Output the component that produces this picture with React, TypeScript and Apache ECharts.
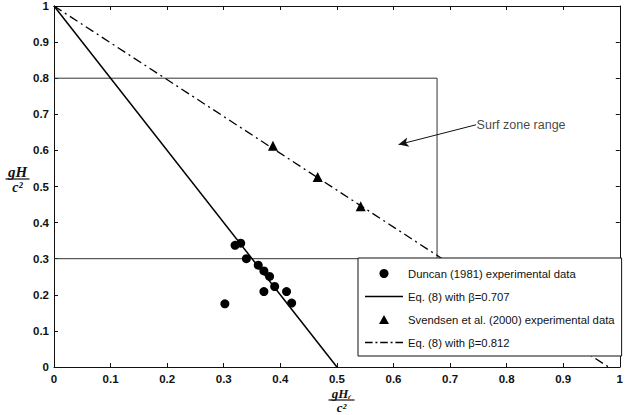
import React, { useEffect, useRef } from "react";
import * as echarts from "echarts";

const duncanX = [0.302, 0.32, 0.33, 0.34, 0.361, 0.371, 0.381, 0.371, 0.39, 0.411, 0.42];
const duncanY = [0.175, 0.337, 0.343, 0.3, 0.282, 0.266, 0.251, 0.209, 0.223, 0.209, 0.177];
const svendsenX = [0.387, 0.466, 0.542];
const svendsenY = [0.613, 0.526, 0.445];
const eq707X = [0, 0.5];
const eq707Y = [1, 0];
const eq812X = [0, 0.98];
const eq812Y = [1, 0];
const surfTopX = [0, 0.677, 0.677];
const surfTopY = [0.8, 0.8, 0.3];
const surfBottomX = [0, 1];
const surfBottomY = [0.3, 0.3];
const arrowFrom = [0.746, 0.671];
const arrowTo = [0.609, 0.616];
const names = [
  "Duncan (1981) experimental data",
  "Eq. (8) with β=0.707",
  "Svendsen et al. (2000) experimental data",
  "Eq. (8) with β=0.812",
];

const zip = (xs: number[], ys: number[]) => xs.map((x, i) => [x, ys[i]]);
const fmt = (v: number) => String(Math.round(v * 10) / 10);
const font = "Liberation Sans, Arial, sans-serif";
const serif = "Liberation Serif, DejaVu Serif, serif";

const solidIcon = "path://M0,0h40v1.5h-40z";
const dashDotIcon =
  "path://M0,0h8v1.4h-8zM11,0h2v1.4h-2zM16,0h8v1.4h-8zM27,0h2v1.4h-2zM32,0h8v1.4h-8z";
const triIcon = "path://M5,0L10,9L0,9Z";

export default function App() {
  const ref = useRef<HTMLDivElement>(null);
  useEffect(() => {
    if (!ref.current) return;
    const chart = echarts.init(ref.current, null, { renderer: "svg" });
    const axisBase = {
      type: "value" as const,
      min: 0,
      max: 1,
      interval: 0.1,
      splitLine: { show: false },
      axisLine: { show: true, onZero: false, lineStyle: { color: "#111", width: 1 } },
      axisTick: { show: true, inside: true, length: 4, lineStyle: { color: "#111" } },
    };
    const labelStyle = { formatter: fmt, color: "#111", fontSize: 11.5, fontWeight: "bold", fontFamily: font };
    chart.setOption({
      animation: false,
      backgroundColor: "#fff",
      grid: { left: 54, right: 1, top: 4, bottom: 48, containLabel: false },
      xAxis: [
        { ...axisBase, position: "bottom", axisLabel: { ...labelStyle, margin: 6 } },
        { ...axisBase, position: "top", axisLabel: { show: false } },
      ],
      yAxis: [
        { ...axisBase, position: "left", axisLabel: { ...labelStyle, margin: 5 } },
        { ...axisBase, position: "right", axisLabel: { show: false } },
      ],
      legend: {
        orient: "vertical",
        left: 358,
        top: 258,
        padding: [10, 7, 8, 7],
        itemGap: 12,
        itemWidth: 38,
        itemHeight: 9,
        symbolKeepAspect: true,
        backgroundColor: "#fff",
        borderColor: "#111",
        borderWidth: 1,
        borderRadius: 0,
        selectedMode: false,
        textStyle: { color: "#111", fontSize: 11.3, fontFamily: font },
        data: [
          { name: names[0], icon: "circle" },
          { name: names[1], icon: solidIcon },
          { name: names[2], icon: triIcon },
          { name: names[3], icon: dashDotIcon },
        ],
      },
      series: [
        {
          type: "line",
          data: zip(surfTopX, surfTopY),
          symbol: "none",
          lineStyle: { color: "#333", width: 1 },
          z: 1,
        },
        {
          type: "line",
          data: zip(surfBottomX, surfBottomY),
          symbol: "none",
          lineStyle: { color: "#333", width: 1 },
          z: 1,
        },
        {
          name: names[0],
          type: "scatter",
          data: zip(duncanX, duncanY),
          symbol: "circle",
          symbolSize: 9,
          itemStyle: { color: "#000", opacity: 1 },
          z: 3,
        },
        {
          name: names[1],
          type: "line",
          data: zip(eq707X, eq707Y),
          symbol: "none",
          showSymbol: false,
          lineStyle: { color: "#000", width: 1.5 },
          itemStyle: { color: "#000" },
        },
        {
          name: names[2],
          type: "scatter",
          data: zip(svendsenX, svendsenY),
          symbol: "triangle",
          symbolSize: 10,
          itemStyle: { color: "#000", opacity: 1 },
          z: 3,
        },
        {
          name: names[3],
          type: "line",
          data: zip(eq812X, eq812Y),
          symbol: "none",
          showSymbol: false,
          lineStyle: { color: "#000", width: 1.3, type: [9, 4, 2, 4] },
          itemStyle: { color: "#000" },
        },
        {
          type: "scatter",
          data: [arrowFrom],
          symbolSize: 1,
          itemStyle: { color: "rgba(0,0,0,0)" },
          label: {
            show: true,
            position: "right",
            distance: 0,
            formatter: "Surf zone range",
            color: "#111",
            fontSize: 12.5,
            fontFamily: font,
          },
          markLine: {
            silent: true,
            symbol: ["none", "arrow"],
            symbolSize: [7, 10],
            label: { show: false },
            lineStyle: { color: "#111", width: 1, type: "solid" },
            data: [[{ coord: arrowFrom }, { coord: arrowTo }]],
          },
        },
      ],
      graphic: [
        {
          type: "group",
          left: 3,
          top: 164,
          children: [
            {
              type: "text",
              x: 12,
              y: 0,
              style: { text: "gH", font: `italic bold 15px ${serif}`, fill: "#111", align: "center" },
            },
            { type: "line", shape: { x1: 0, y1: 15, x2: 24, y2: 15 }, style: { stroke: "#111", lineWidth: 1.2 } },
            {
              type: "text",
              x: 12,
              y: 16,
              style: { text: "c²", font: `italic bold 14px ${serif}`, fill: "#111", align: "center" },
            },
          ],
        },
        {
          type: "group",
          left: 326,
          top: 387,
          children: [
            {
              type: "text",
              x: 13,
              y: 0,
              style: { text: "gHᵣ", font: `italic bold 13px ${serif}`, fill: "#111", align: "center" },
            },
            { type: "line", shape: { x1: 0, y1: 13, x2: 26, y2: 13 }, style: { stroke: "#111", lineWidth: 1.2 } },
            {
              type: "text",
              x: 13,
              y: 14,
              style: { text: "c²", font: `italic bold 13px ${serif}`, fill: "#111", align: "center" },
            },
          ],
        },
      ],
    });
    return () => chart.dispose();
  }, []);
  return <div ref={ref} style={{ width: 626, height: 415, position: "absolute", left: 0, top: 0 }} />;
}
